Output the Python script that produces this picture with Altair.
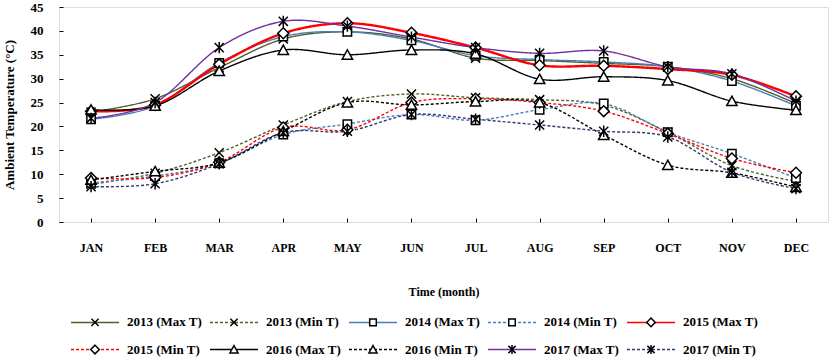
import altair as alt
import pandas as pd

months = ["JAN", "FEB", "MAR", "APR", "MAY", "JUN", "JUL", "AUG", "SEP", "OCT", "NOV", "DEC"]

series_names = [
    "2013 (Max T)", "2013 (Min T)", "2014 (Max T)", "2014 (Min T)", "2015 (Max T)",
    "2015 (Min T)", "2016 (Max T)", "2016 (Min T)", "2017 (Max T)", "2017 (Min T)",
]

max_2013 = [23.0, 25.8, 32.3, 38.3, 39.8, 38.3, 34.3, 33.8, 33.2, 32.5, 30.0, 24.8]
min_2013 = [7.9, 10.2, 14.5, 20.3, 25.2, 26.8, 26.0, 25.6, 24.5, 18.8, 11.8, 8.5]
max_2014 = [21.5, 24.3, 33.3, 38.8, 39.8, 38.0, 34.8, 34.0, 33.5, 32.5, 29.5, 24.3]
min_2014 = [8.2, 9.6, 12.3, 18.3, 20.5, 22.5, 21.3, 23.5, 24.8, 18.8, 14.3, 9.2]
max_2015 = [23.2, 24.5, 33.0, 39.5, 41.6, 39.6, 36.5, 32.8, 32.7, 32.0, 30.8, 26.3]
min_2015 = [9.2, 9.3, 12.5, 19.8, 19.3, 25.0, 25.8, 25.0, 23.2, 18.5, 13.3, 10.3]
max_2016 = [23.5, 24.3, 31.6, 36.0, 35.0, 36.0, 35.2, 29.9, 30.4, 29.6, 25.3, 23.4]
min_2016 = [8.8, 10.6, 12.4, 19.0, 25.0, 24.5, 25.2, 25.0, 18.2, 11.9, 10.3, 7.3]
max_2017 = [21.7, 25.0, 36.5, 42.0, 41.0, 38.7, 36.5, 35.3, 35.8, 32.5, 31.0, 25.3]
min_2017 = [7.4, 8.0, 12.2, 18.7, 19.0, 22.5, 21.5, 20.3, 19.0, 17.8, 10.4, 7.0]

series_values = [max_2013, min_2013, max_2014, min_2014, max_2015,
                 min_2015, max_2016, min_2016, max_2017, min_2017]

colors = ["#4F6228", "#4F6228", "#4A7EBB", "#4A7EBB", "#FF0000",
          "#FF0000", "#000000", "#000000", "#7030A0", "#2E3A6E"]
dashes = [[1, 0], [3, 2], [1, 0], [3, 2], [1, 0],
          [3, 2], [1, 0], [3, 2], [1, 0], [3, 2]]
marker_stroke = ["black"] * 10
marker_fill = ["white"] * 10

# moveTo points give every legend symbol the same bounding box
pre = "M-4,-1.2M4,1.2"
m_x = pre + "M-0.6,-0.6L0.6,0.6M-0.6,0.6L0.6,-0.6"
m_sq = pre + "M-0.55,-0.55H0.55V0.55H-0.55Z"
m_di = pre + "M0,-0.72L0.72,0L0,0.72L-0.72,0Z"
m_tr = pre + "M0,-0.65L0.68,0.58H-0.68Z"
m_as = pre + "M-0.6,-0.6L0.6,0.6M-0.6,0.6L0.6,-0.6M0,-0.75V0.75"
markers = [m_x, m_x, m_sq, m_sq, m_di, m_di, m_tr, m_tr, m_as, m_as]

rows = []
for name, vals in zip(series_names, series_values):
    for m, v in zip(months, vals):
        rows.append({"month": m, "temp": v, "series": name})
df = pd.DataFrame(rows)

FONT = "Liberation Serif"

legend_common = dict(
    orient="none", legendX=29, legendY=308, columns=5, direction="horizontal", title=None,
    symbolSize=144, symbolStrokeWidth=1.5, labelOffset=25,
    labelFont=FONT, labelFontSize=13, labelFontWeight="bold", labelColor="black",
    columnPadding=4, rowPadding=5.5, labelLimit=200,
)

x_enc = alt.X(
    "month:O", sort=months,
    scale=alt.Scale(type="point", padding=0.5),
    axis=alt.Axis(title="Time (month)", labelAngle=0, offset=-4, tickSize=4, domain=False,
                  labelPadding=20, titlePadding=33, labelFont=FONT, labelFontSize=12,
                  labelFontWeight="bold", titleFont=FONT, titleFontSize=12,
                  titleFontWeight="bold", labelColor="black", titleColor="black",
                  tickColor="black", grid=False),
)
y_enc = alt.Y(
    "temp:Q", scale=alt.Scale(domain=[0, 45], nice=False),
    axis=alt.Axis(title="Ambient Temperature (°C)", values=list(range(0, 50, 5)),
                  labelOverlap=False, offset=-4, tickSize=4, domain=False,
                  labelPadding=16, titlePadding=14,
                  labelFont=FONT, labelFontSize=13, labelFontWeight="bold",
                  titleFont=FONT, titleFontSize=13, titleFontWeight="bold",
                  labelColor="black", titleColor="black", tickColor="black", grid=False),
)

line_legend = alt.Legend(symbolType="M-4,-1.2M4,1.2M-4,0H4", **legend_common)
marker_legend = alt.Legend(labelOpacity=0, symbolOpacity=1, **legend_common)

lines = alt.Chart(df).mark_line(interpolate="cardinal").encode(
    x=x_enc,
    y=y_enc,
    color=alt.Color("series:N", scale=alt.Scale(domain=series_names, range=colors),
                    legend=line_legend),
    strokeDash=alt.StrokeDash("series:N", scale=alt.Scale(domain=series_names, range=dashes),
                              legend=line_legend),
    strokeWidth=alt.condition("datum.series == '2015 (Max T)'", alt.value(2.4), alt.value(1.4)),
    detail="series:N",
)

points = alt.Chart(df).mark_point(filled=False, strokeWidth=1.5, size=230, opacity=1).encode(
    x=x_enc,
    y=y_enc,
    shape=alt.Shape("series:N", scale=alt.Scale(domain=series_names, range=markers),
                    legend=marker_legend),
    stroke=alt.Stroke("series:N", scale=alt.Scale(domain=series_names, range=marker_stroke),
                      legend=marker_legend),
    fill=alt.Fill("series:N", scale=alt.Scale(domain=series_names, range=marker_fill),
                  legend=marker_legend),
)

chart = alt.layer(lines, points).resolve_legend(
    color="independent", strokeDash="independent", shape="independent",
    stroke="independent", fill="independent"
).properties(
    width=769, height=215,
    autosize=alt.AutoSizeParams(type="none"),
    padding={"left": 59, "top": 7, "right": 5, "bottom": 136},
).configure_view(stroke="black", strokeWidth=1.5).configure(font=FONT)

chart.save("out.html", embed_options={"renderer": "svg", "actions": False})
